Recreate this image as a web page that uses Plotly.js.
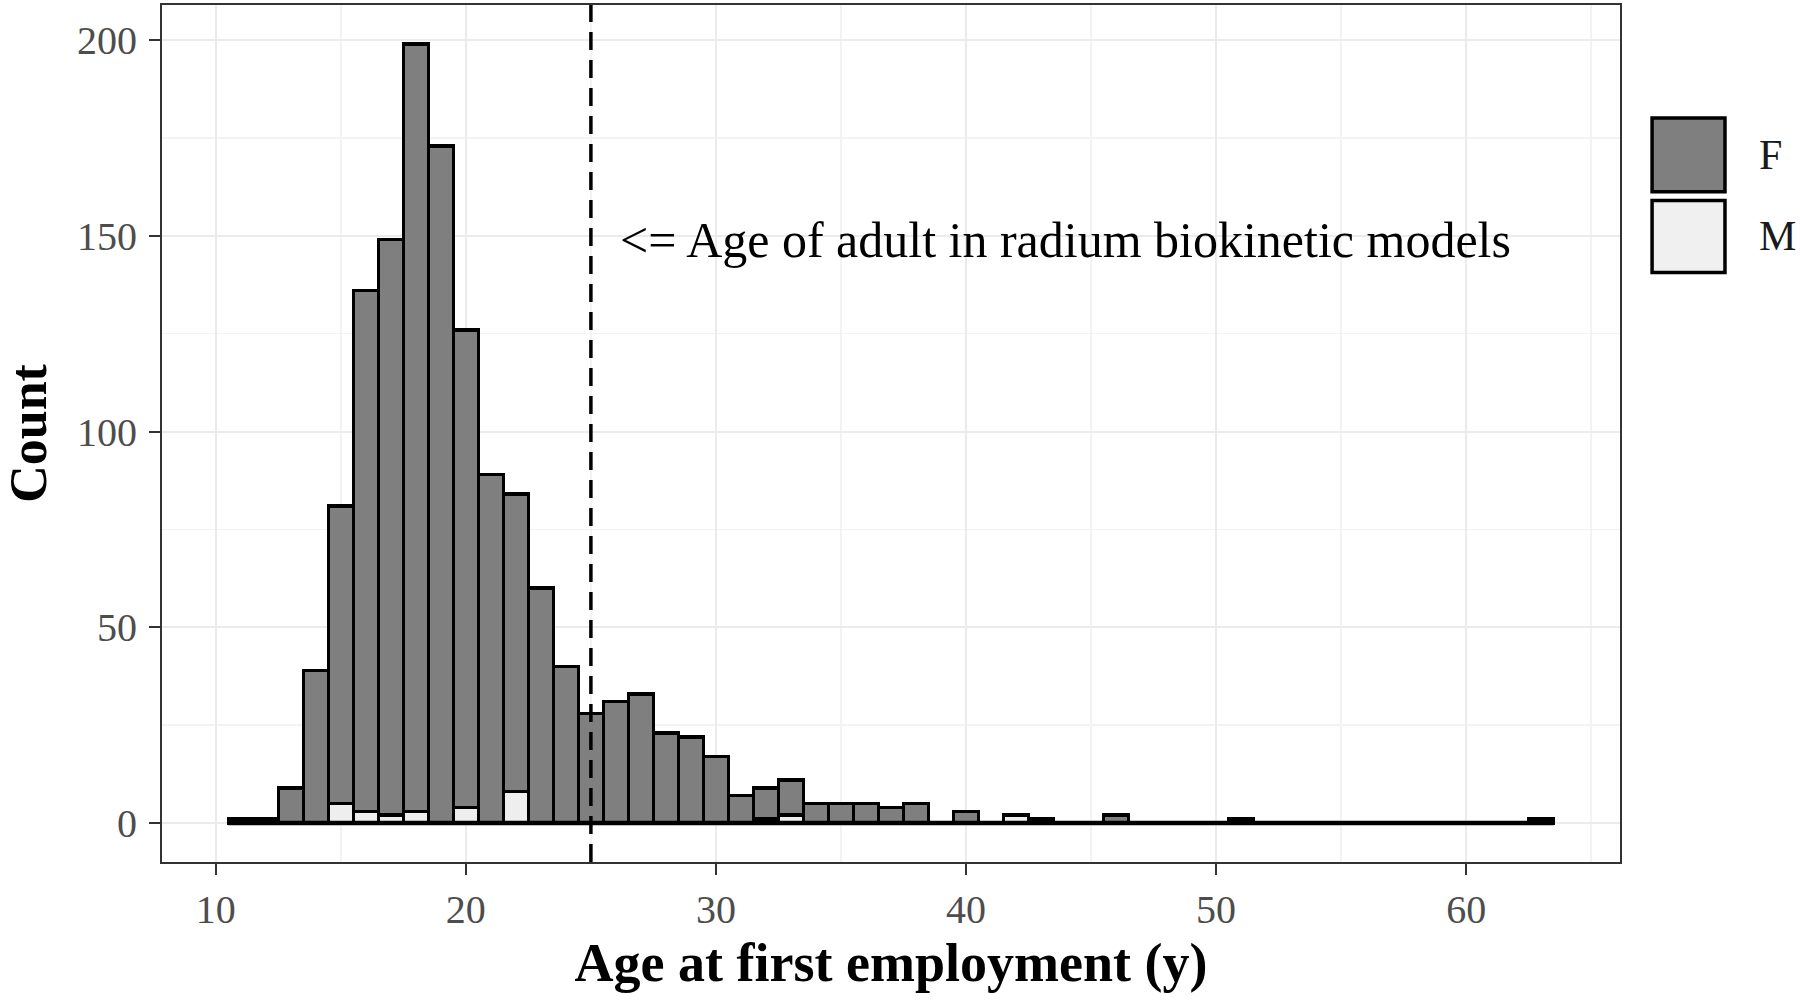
<!DOCTYPE html>
<html>
<head>
<meta charset="utf-8">
<script src="https://cdn.plot.ly/plotly-3.0.1.min.js"></script>
<style>
  html, body { margin: 0; padding: 0; background: #ffffff; }
  #chart { width: 1800px; height: 1000px; }
</style>
</head>
<body>
<div id="chart"></div>
<script>
// age bins (width 1 year, centred on the integer)
const ages = [
  11, 12, 13, 14, 15, 16, 17, 18, 19, 20,
  21, 22, 23, 24, 25, 26, 27, 28, 29, 30,
  31, 32, 33, 34, 35, 36, 37, 38, 39, 40,
  41, 42, 43, 44, 45, 46, 47, 48, 49, 50,
  51, 52, 53, 54, 55, 56, 57, 58, 59, 60,
  61, 62, 63
];

// counts per bin, female
const countF = [
  1, 1, 9, 39, 76, 133, 147, 196, 173, 122,
  89, 76, 60, 40, 28, 31, 33, 23, 22, 17,
  7, 8, 9, 5, 5, 5, 4, 5, 0, 3,
  0, 0, 1, 0, 0, 2, 0, 0, 0, 0,
  1, 0, 0, 0, 0, 0, 0, 0, 0, 0,
  0, 0, 1
];

// counts per bin, male
const countM = [
  0, 0, 0, 0, 5, 3, 2, 3, 0, 4,
  0, 8, 0, 0, 0, 0, 0, 0, 0, 0,
  0, 1, 2, 0, 0, 0, 0, 0, 0, 0,
  0, 2, 0, 0, 0, 0, 0, 0, 0, 0,
  0, 0, 0, 0, 0, 0, 0, 0, 0, 0,
  0, 0, 0
];

const adultAge = 25;
const noteText = '&lt;= Age of adult in radium biokinetic models';

const serif = 'Liberation Serif, Times New Roman, serif';
const fillF = '#7f7f7f';
const fillM = '#eeeeee';

// M first so it sits at the bottom of the stack
let traceM = {
  type: 'bar',
  x: ages,
  y: countM,
  width: 1,
  name: 'M',
  marker: {color: fillM, line: {color: '#000000', width: 3.5}},
  showlegend: false
};

let traceF = {
  type: 'bar',
  x: ages,
  y: countF,
  width: 1,
  name: 'F',
  marker: {color: fillF, line: {color: '#000000', width: 3.5}},
  showlegend: false
};

// empty bins are drawn as a flat outline along zero
let binLo = ages[0] - 0.5;
let binHi = ages[ages.length - 1] + 0.5;
let baseLine = {
  type: 'scatter',
  mode: 'lines',
  x: [binLo, binHi],
  y: [0, 0],
  line: {color: '#000000', width: 4.5},
  hoverinfo: 'skip',
  showlegend: false
};

let axisCommon = {
  showline: true,
  mirror: true,
  linecolor: '#333333',
  linewidth: 2,
  ticks: 'outside',
  ticklen: 11,
  tickwidth: 2,
  tickcolor: '#333333',
  showgrid: true,
  gridcolor: '#ebebeb',
  gridwidth: 2,
  zeroline: false,
  tickfont: {family: serif, size: 40, color: '#4d4d4d'}
};

let layout = {
  width: 1800,
  height: 1000,
  margin: {l: 162, r: 180, t: 5, b: 138},
  paper_bgcolor: '#ffffff',
  plot_bgcolor: '#ffffff',
  barmode: 'stack',
  bargap: 0,
  font: {family: serif, color: '#000000'},
  xaxis: Object.assign({}, axisCommon, {
    range: [7.85, 66.15],
    tick0: 10,
    dtick: 10,
    minor: {dtick: 5, showgrid: true, gridcolor: '#f3f3f3', gridwidth: 1.5},
    title: {text: '<b>Age at first employment (y)</b>', font: {family: serif, size: 54, color: '#000000'}, standoff: 12}
  }),
  yaxis: Object.assign({}, axisCommon, {
    range: [-9.95, 208.95],
    tick0: 0,
    dtick: 50,
    minor: {dtick: 25, showgrid: true, gridcolor: '#f3f3f3', gridwidth: 1.5},
    ticklabelstandoff: 4,
    title: {text: '<b>Count</b>', font: {family: serif, size: 52, color: '#000000'}, standoff: 18}
  }),
  shapes: [
    {
      type: 'line', xref: 'x', yref: 'paper',
      x0: adultAge, x1: adultAge, y0: 0, y1: 1,
      line: {color: '#000000', width: 3.5, dash: '18px,10px'}
    },
    // legend keys
    {
      type: 'rect', xref: 'paper', yref: 'paper',
      x0: 1.022, x1: 1.072, y0: 0.782, y1: 0.868,
      fillcolor: fillF, line: {color: '#000000', width: 3.5}
    },
    {
      type: 'rect', xref: 'paper', yref: 'paper',
      x0: 1.022, x1: 1.072, y0: 0.688, y1: 0.772,
      fillcolor: '#f0f0f0', line: {color: '#000000', width: 3.5}
    }
  ],
  annotations: [
    {
      x: adultAge + 1.1, y: 149, xref: 'x', yref: 'y',
      xanchor: 'left', yanchor: 'middle',
      text: noteText, showarrow: false,
      font: {family: serif, size: 50, color: '#000000'}
    },
    {
      x: 1.094, y: 0.825, xref: 'paper', yref: 'paper',
      xanchor: 'left', yanchor: 'middle',
      text: 'F', showarrow: false,
      font: {family: serif, size: 42, color: '#1a1a1a'}
    },
    {
      x: 1.094, y: 0.73, xref: 'paper', yref: 'paper',
      xanchor: 'left', yanchor: 'middle',
      text: 'M', showarrow: false,
      font: {family: serif, size: 42, color: '#1a1a1a'}
    }
  ]
};

Plotly.newPlot('chart', [traceM, traceF, baseLine], layout, {displayModeBar: false, staticPlot: true});
</script>
</body>
</html>
